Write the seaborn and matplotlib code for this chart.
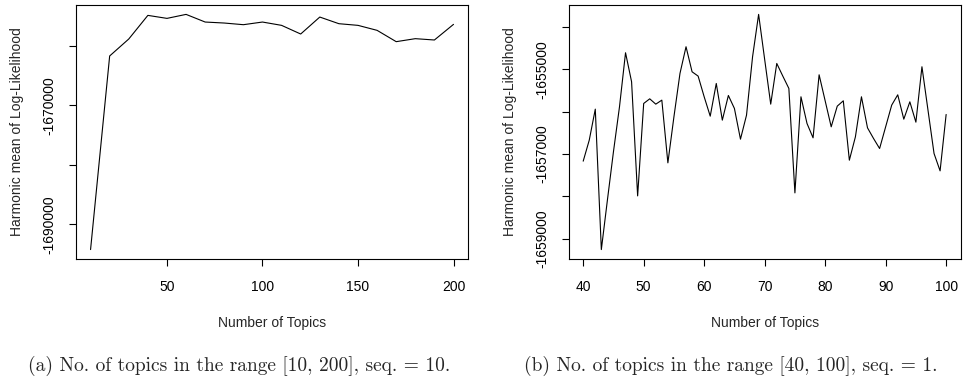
import numpy as np
import pandas as pd
import matplotlib
matplotlib.use("Agg")
import matplotlib.pyplot as plt
import seaborn as sns

# Data
topics_a = [10, 20, 30, 40, 50, 60, 70, 80, 90, 100,
            110, 120, 130, 140, 150, 160, 170, 180, 190, 200]
loglik_a = [-1694246, -1661732, -1658883, -1654916, -1655419, -1654749, -1656034,
            -1656201, -1656480, -1656034, -1656592, -1658045, -1655196, -1656313,
            -1656592, -1657430, -1659330, -1658827, -1659050, -1656425]

topics_b = list(range(40, 101))
loglik_b = [-1657170, -1656674, -1655940, -1659260, -1658093, -1656950, -1655885,
            -1654607, -1655293, -1657991, -1655806, -1655696, -1655822, -1655727,
            -1657210, -1656121, -1655096, -1654465, -1655057, -1655159, -1655648,
            -1656106, -1655333, -1656200, -1655617, -1655924, -1656650, -1656082,
            -1654702, -1653700, -1654765, -1655822, -1654860, -1655159, -1655451,
            -1657920, -1655648, -1656279, -1656618, -1655128, -1655743, -1656358,
            -1655869, -1655743, -1657147, -1656595, -1655648, -1656382, -1656634,
            -1656871, -1656358, -1655845, -1655601, -1656177, -1655767, -1656248,
            -1654938, -1655964, -1656989, -1657399, -1656066]

xticks_a = [50, 100, 150, 200]
yticks_a = [-1690000, -1680000, -1670000, -1660000]
ylabels_a = ["-1690000", "", "-1670000", ""]

xticks_b = [40, 50, 60, 70, 80, 90, 100]
yticks_b = [-1659000, -1658000, -1657000, -1656000, -1655000, -1654000]
ylabels_b = ["-1659000", "", "-1657000", "", "-1655000", ""]

captions = ["(a) No. of topics in the range [10, 200], seq. = 10.",
            "(b) No. of topics in the range [40, 100], seq. = 1."]

sns.set_style("ticks")
plt.rcParams['font.family'] = ['Liberation Sans', 'DejaVu Sans']

fig = plt.figure(figsize=(9.65, 3.83), dpi=100)
ax_a = fig.add_axes([0.0788, 0.3238, 0.4062, 0.6632])
ax_b = fig.add_axes([0.5893, 0.3238, 0.4062, 0.6632])


def draw_panel(ax, x, y, xticks, yticks, ylabels):
    df = pd.DataFrame({'topics': x, 'loglik': y})
    sns.lineplot(data=df, x='topics', y='loglik', color='black', linewidth=0.8, ax=ax)
    ax.margins(x=0.04, y=0.04)
    ax.set_xticks(xticks)
    ax.set_xticklabels([str(t) for t in xticks])
    ax.set_yticks(yticks)
    ax.set_yticklabels(ylabels, rotation=90, va='center')
    ax.tick_params(axis='both', direction='out', length=5.2, width=0.8,
                   color='black', labelsize=10, labelcolor='black')
    ax.tick_params(axis='x', pad=10)
    ax.tick_params(axis='y', pad=9)
    for s in ax.spines.values():
        s.set_visible(True)
        s.set_color('black')
        s.set_linewidth(0.8)
    ax.set_xlabel("Number of Topics", fontsize=10, labelpad=16)
    ax.set_ylabel("Harmonic mean of Log-Likelihood", fontsize=10, labelpad=13)


draw_panel(ax_a, topics_a, loglik_a, xticks_a, yticks_a, ylabels_a)
draw_panel(ax_b, topics_b, loglik_b, xticks_b, yticks_b, ylabels_b)

fig.text(0.248, 0.045, captions[0], ha='center', va='center',
         fontsize=14, family='cmr10')
fig.text(0.7575, 0.045, captions[1], ha='center', va='center',
         fontsize=14, family='cmr10')

fig.savefig("out.png", dpi=100, facecolor='white')
